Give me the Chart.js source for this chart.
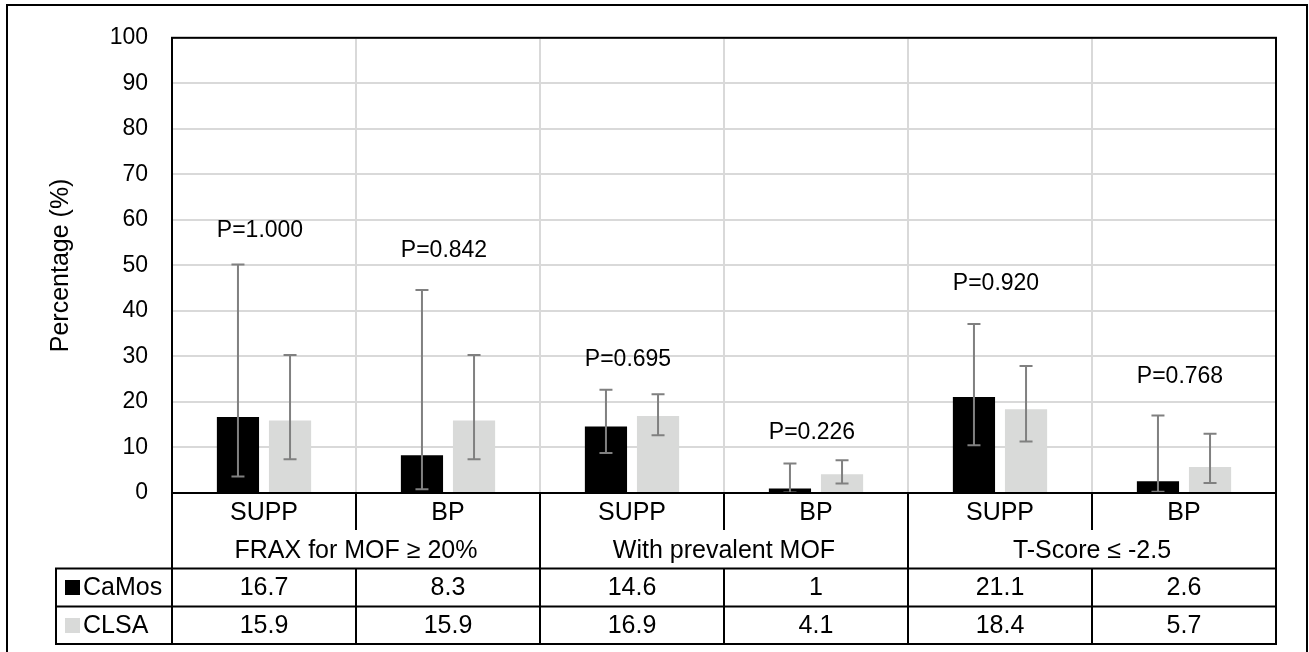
<!DOCTYPE html>
<html>
<head>
<meta charset="utf-8">
<script src="https://cdn.jsdelivr.net/npm/chart.js@4.4.1/dist/chart.umd.min.js"></script>
<style>
html,body{margin:0;padding:0;background:#fff;}
#wrap{width:1309px;height:652px;position:relative;}
</style>
</head>
<body>
<div id="wrap"><canvas id="c" width="1309" height="652"></canvas></div>
<script>
// ---- data ----
const categories = ["SUPP", "BP", "SUPP", "BP", "SUPP", "BP"];
const groups = ["FRAX for MOF \u2265 20%", "With prevalent MOF", "T-Score \u2264 -2.5"];
const seriesNames = ["CaMos", "CLSA"];
const camos = [16.7, 8.3, 14.6, 1, 21.1, 2.6];
const clsa = [15.9, 15.9, 16.9, 4.1, 18.4, 5.7];
const camosLow = [3.6, 0.8, 8.8, 0.1, 10.5, 0.3];
const camosHigh = [50.2, 44.6, 22.7, 6.5, 37.1, 17.0];
const clsaLow = [7.4, 7.4, 12.7, 2.1, 11.3, 2.2];
const clsaHigh = [30.3, 30.3, 21.7, 7.2, 27.9, 13.0];
const pLabels = ["P=1.000", "P=0.842", "P=0.695", "P=0.226", "P=0.920", "P=0.768"];
const pLabelY = [57.7, 53.3, 29.4, 13.2, 46, 25.5];
const yTicks = [0, 10, 20, 30, 40, 50, 60, 70, 80, 90, 100];
const yTitle = "Percentage (%)";

const FONT = '"Liberation Sans", Arial, sans-serif';
const colors = ["#000000", "#d9dad9"];

const custom = {
  id: 'custom',
  afterDatasetsDraw(chart) {
    const ctx = chart.ctx, y = chart.scales.y, x = chart.scales.x;
    [[0, camosLow, camosHigh], [1, clsaLow, clsaHigh]].forEach(([di, lo, hi]) => {
      const meta = chart.getDatasetMeta(di);
      meta.data.forEach((bar, i) => {
        const px = bar.x, y1 = y.getPixelForValue(lo[i]), y2 = y.getPixelForValue(hi[i]);
        ctx.save();
        ctx.strokeStyle = '#808080';
        ctx.lineWidth = 2;
        ctx.beginPath();
        ctx.moveTo(px, y1); ctx.lineTo(px, y2);
        ctx.moveTo(px - 6.5, y1); ctx.lineTo(px + 6.5, y1);
        ctx.moveTo(px - 6.5, y2); ctx.lineTo(px + 6.5, y2);
        ctx.stroke();
        ctx.restore();
      });
    });
    ctx.save();
    ctx.fillStyle = '#000';
    ctx.font = '23px ' + FONT;
    ctx.textAlign = 'center';
    ctx.textBaseline = 'middle';
    pLabels.forEach((t, i) => {
      ctx.fillText(t, x.getPixelForValue(i) - 4, y.getPixelForValue(pLabelY[i]));
    });
    ctx.restore();
  },
  afterDraw(chart) {
    const ctx = chart.ctx, a = chart.chartArea, x = chart.scales.x;
    const half = (x.getPixelForValue(1) - x.getPixelForValue(0)) / 2;
    const edge = i => x.getPixelForValue(i) - half;
    const tblLeft = 56, r1 = 530, r2 = 568.5, r3 = 606.5, r4 = 644;
    ctx.save();
    ctx.strokeStyle = '#000';
    ctx.lineWidth = 2;
    // plot border
    ctx.strokeRect(a.left, a.top, a.right - a.left, a.bottom - a.top);
    ctx.beginPath();
    // full vertical lines
    [0, 2, 4, 6].forEach(i => {
      const px = i === 6 ? a.right : (i === 0 ? a.left : edge(i));
      ctx.moveTo(px, a.bottom); ctx.lineTo(px, r4);
    });
    // partial vertical lines
    [1, 3, 5].forEach(i => {
      const px = edge(i);
      ctx.moveTo(px, a.bottom); ctx.lineTo(px, r1);
      ctx.moveTo(px, r2); ctx.lineTo(px, r4);
    });
    // horizontal rows
    [r2, r3, r4].forEach(yy => { ctx.moveTo(tblLeft - 1, yy); ctx.lineTo(a.right + 1, yy); });
    ctx.moveTo(tblLeft, r2); ctx.lineTo(tblLeft, r4);
    // outer border
    ctx.moveTo(7, 652); ctx.lineTo(7, 5); ctx.lineTo(1307, 5); ctx.lineTo(1307, 652);
    ctx.stroke();

    // table text
    ctx.fillStyle = '#000';
    ctx.font = '25px ' + FONT;
    ctx.textAlign = 'center';
    ctx.textBaseline = 'middle';
    categories.forEach((c, i) => {
      const cx = x.getPixelForValue(i);
      ctx.fillText(c, cx, 513);
      ctx.fillText(String(camos[i]), cx, 588);
      ctx.fillText(String(clsa[i]), cx, 626);
    });
    groups.forEach((g, k) => {
      const cx = (edge(2 * k) + edge(2 * k + 2)) / 2;
      ctx.fillText(g, cx, 551);
    });
    // legend cells
    ctx.textAlign = 'left';
    ctx.fillStyle = colors[0];
    ctx.fillRect(65, 580, 15, 15);
    ctx.fillStyle = colors[1];
    ctx.fillRect(65, 618, 15, 15);
    ctx.fillStyle = '#000';
    ctx.fillText(seriesNames[0], 83, 588);
    ctx.fillText(seriesNames[1], 83, 626);

    // y title
    ctx.save();
    ctx.translate(61, (a.top + a.bottom) / 2);
    ctx.rotate(-Math.PI / 2);
    ctx.textAlign = 'center';
    ctx.font = '25px ' + FONT;
    ctx.fillText(yTitle, 0, 0);
    ctx.restore();
    ctx.restore();
  }
};

new Chart(document.getElementById('c'), {
  type: 'bar',
  data: {
    labels: categories,
    datasets: [
      { label: seriesNames[0], data: camos, backgroundColor: colors[0], categoryPercentage: 0.566, barPercentage: 0.81 },
      { label: seriesNames[1], data: clsa, backgroundColor: colors[1], categoryPercentage: 0.566, barPercentage: 0.81 }
    ]
  },
  options: {
    responsive: false,
    animation: false,
    events: [],
    layout: { padding: { left: 0, top: 37, right: 33, bottom: 159 } },
    plugins: { legend: { display: false }, tooltip: { enabled: false } },
    scales: {
      x: {
        ticks: { display: false },
        grid: { color: '#d9d9d9', lineWidth: 2, offset: true, drawTicks: false },
        border: { display: false },
        afterFit(s) { s.height = 0; }
      },
      y: {
        min: 0, max: 100,
        afterBuildTicks(s) { s.ticks = yTicks.map(v => ({ value: v })); },
        ticks: { color: '#000', font: { size: 23, family: FONT }, padding: 24 },
        grid: { color: '#d9d9d9', lineWidth: 2, drawTicks: false },
        border: { display: false },
        afterFit(s) { s.width = 172; }
      }
    }
  },
  plugins: [custom]
});
</script>
</body>
</html>
